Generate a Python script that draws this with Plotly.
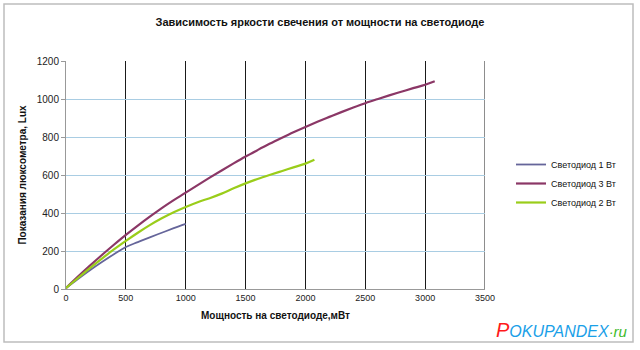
import plotly.graph_objects as go

# Data (power in mW, illuminance in Lux)
x_1w = [0, 100, 200, 300, 400, 500, 600, 700, 800, 900, 1000]
y_1w = [5, 53, 99, 142, 183, 221, 247, 272, 296, 320, 343]

x_3w = [0, 100, 200, 300, 400, 500, 600, 700, 800, 900, 1000, 1100, 1200, 1300,
        1400, 1500, 1600, 1700, 1800, 1900, 2000, 2100, 2200, 2300, 2400, 2500,
        2600, 2700, 2800, 2900, 3000, 3080]
y_3w = [5, 65, 123, 179, 233, 285, 334, 381, 426, 468, 507, 547, 586, 624,
        661, 697, 731, 764, 795, 825, 853, 880, 906, 931, 955, 978,
        999, 1019, 1038, 1057, 1075, 1093]

x_2w = [0, 100, 200, 300, 400, 500, 600, 700, 800, 900, 1000, 1100, 1200, 1300,
        1400, 1500, 1600, 1700, 1800, 1900, 2000, 2075]
y_2w = [5, 58, 110, 160, 208, 253, 296, 336, 372, 404, 432, 457, 478, 502,
        530, 556, 579, 600, 620, 640, 660, 680]

names = ["Светодиод 1 Вт", "Светодиод 3 Вт", "Светодиод 2 Вт"]
colors = ["#65659a", "#8b3766", "#9acd1a"]

title_text = "Зависимость яркости свечения от мощности на светодиоде"
x_title = "Мощность на светодиоде,мВт"
y_title = "Показания люксометра, Lux"

x_ticks = [0, 500, 1000, 1500, 2000, 2500, 3000, 3500]
y_ticks = [0, 200, 400, 600, 800, 1000, 1200]

FONT = "Liberation Sans, Arial, sans-serif"

fig = go.Figure()
for xs, ys, nm, c, w in [(x_1w, y_1w, names[0], colors[0], 1.8),
                         (x_3w, y_3w, names[1], colors[1], 2.2),
                         (x_2w, y_2w, names[2], colors[2], 2.2)]:
    fig.add_trace(go.Scatter(x=xs, y=ys, mode="lines", name=nm,
                             line=dict(color=c, width=w, shape="spline", smoothing=1.0)))

W, H = 640, 350
L, R, T, B = 66, 155, 61, 61
pw, ph = W - L - R, H - T - B

def px_x(p):
    return (p - L) / pw

def px_y(p):
    return (H - B - p) / ph

fig.update_layout(
    width=W, height=H,
    margin=dict(l=L, r=R, t=T, b=B),
    paper_bgcolor="white", plot_bgcolor="white",
    font=dict(family=FONT, size=10, color="#222"),
    title=dict(text="<b>" + title_text + "</b>", x=px_x(320), xref="paper",
               xanchor="center", y=1 - 22 / H, yanchor="middle",
               font=dict(family=FONT, size=11, color="#111")),
    showlegend=True,
    legend=dict(x=px_x(511), y=px_y(150), xanchor="left", yanchor="top",
                bgcolor="rgba(0,0,0,0)", font=dict(family=FONT, size=9, color="#111"),
                tracegroupgap=2, itemwidth=30),
    xaxis=dict(range=[0, 3500], tickvals=x_ticks, showgrid=True, gridcolor="#1a1a1a",
               gridwidth=1, zeroline=False, showline=True, linecolor="#999",
               ticks="", tickfont=dict(size=9, color="#222"),
               title=dict(text="<b>" + x_title + "</b>", font=dict(size=10, color="#111"),
                          standoff=10)),
    yaxis=dict(range=[0, 1200], tickvals=y_ticks, showgrid=True, gridcolor="#a9cde3",
               gridwidth=1, zeroline=False, showline=True, linecolor="#999",
               ticks="outside", ticklen=4, tickcolor="#999",
               tickfont=dict(size=10, color="#222"),
               title=dict(text="<b>" + y_title + "</b>", font=dict(size=10, color="#111"),
                          standoff=8)),
)

# vertical gridline at the right edge of the x range (last tick)
fig.add_shape(type="line", xref="x", yref="paper", x0=x_ticks[-1], x1=x_ticks[-1],
              y0=0, y1=1, line=dict(color="#1a1a1a", width=1), layer="below")

# outer chart border
fig.add_shape(type="rect", xref="paper", yref="paper",
              x0=px_x(4), x1=px_x(633), y0=px_y(342), y1=px_y(4),
              line=dict(color="#bdbdbd", width=1.5), layer="below")

# watermark
fig.add_annotation(xref="paper", yref="paper", x=px_x(630), y=px_y(330),
                   xanchor="right", yanchor="middle", showarrow=False,
                   text=("<i><span style='color:#ff1a1a;font-size:20px'>P</span>"
                         "<span style='color:#1aa0e8;font-size:16px'>OKUPANDEX</span>"
                         "<span style='color:#3dbb2a;font-size:15px'>·ru</span></i>"),
                   font=dict(family="Liberation Sans, Arial, sans-serif", size=15))

fig.write_html("out.html")
